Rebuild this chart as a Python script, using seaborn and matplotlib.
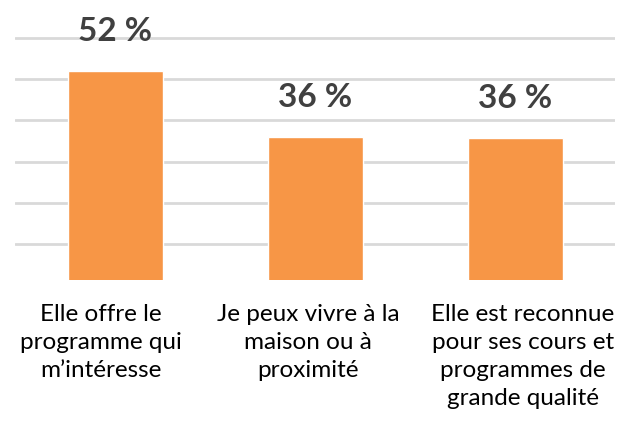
from __future__ import annotations

import matplotlib
matplotlib.use("Agg")
import matplotlib.pyplot as plt
import numpy as np
import pandas as pd
import seaborn as sns

CATEGORIES = [
    "Elle offre le\nprogramme qui\nm’intéresse",
    "Je peux vivre à la\nmaison ou à\nproximité",
    "Elle est reconnue\npour ses cours et\nprogrammes de\ngrande qualité",
]
VALUES = [52, 36, 35.8]
VALUE_LABELS = ["52 %", "36 %", "36 %"]
GRID_TICKS = [10, 20, 30, 40, 50, 60]

BAR_COLOR = "#F79646"
GRID_COLOR = "#D9D9D9"
TEXT_COLOR = "#404040"

# the category texts sit a little off the bar centres in the original
LABEL_SHIFT = [-0.07, -0.035, 0.04]


def main():
    sns.set_theme(style="white")
    plt.rcParams["font.family"] = ["Lato", "DejaVu Sans"]

    df = pd.DataFrame({"cat": CATEGORIES, "val": VALUES})

    fig = plt.figure(figsize=(6.25, 4.23), dpi=100)
    ax = fig.add_axes([15 / 625, (423 - 280) / 423, 600 / 625, 280 / 423])

    sns.barplot(data=df, x="cat", y="val", color=BAR_COLOR, saturation=1,
                width=0.475, ax=ax, zorder=3)

    ax.set_ylim(1.26, 69.2)
    ax.set_xlim(-0.5, 2.5)
    ax.set_yticks(GRID_TICKS)
    ax.yaxis.grid(True, color=GRID_COLOR, lw=2)
    ax.set_axisbelow(True)
    ax.tick_params(axis="y", left=False, labelleft=False)

    ticks = np.arange(len(CATEGORIES)) + np.array(LABEL_SHIFT)
    ax.set_xticks(ticks, CATEGORIES)
    ax.tick_params(axis="x", bottom=False, pad=11, labelsize=17.5,
                   labelcolor="black")
    for lab in ax.get_xticklabels():
        lab.set_linespacing(1.42)
        lab.set_ha("center")
    for s in ax.spines.values():
        s.set_visible(False)
    ax.set_xlabel("")
    ax.set_ylabel("")

    for i, (v, txt) in enumerate(zip(VALUES, VALUE_LABELS)):
        ax.annotate(txt, (i, v), xytext=(0, 18), textcoords="offset points",
                    ha="center", va="bottom", fontsize=24, fontweight="bold",
                    color=TEXT_COLOR, clip_on=False)

    fig.savefig("out.png", dpi=100)
    plt.close(fig)


if __name__ == "__main__":
    main()
